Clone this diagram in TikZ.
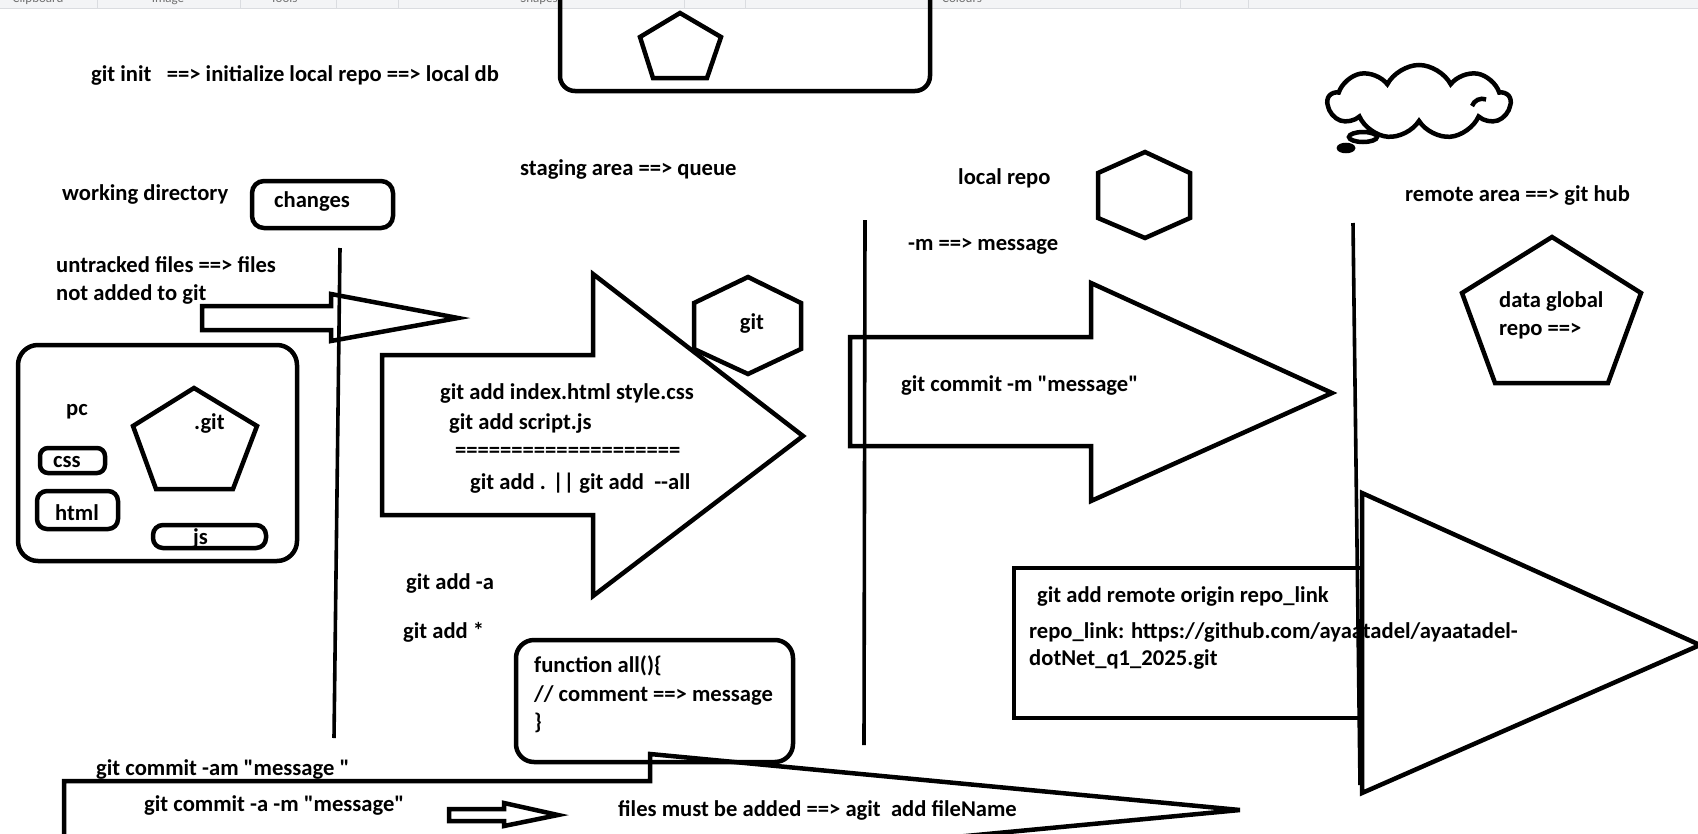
\documentclass[tikz,border=0pt]{standalone}
\usepackage{fontspec}
\setmainfont{Carlito}[Ligatures=TeXOff]
\usetikzlibrary{shapes.symbols}
\definecolor{barbg}{HTML}{F3F4F6}
\definecolor{barrule}{HTML}{DADCE0}
\definecolor{bartext}{HTML}{707070}
\tikzset{
  paint/.style={line width=4.5pt},
  divider/.style={line width=3.6pt},
  txt/.style={anchor=base west, inner sep=0pt, font=\fontsize{22.6}{26}\selectfont\bfseries},
  bartxt/.style={anchor=base, inner sep=0pt, text=bartext, font=\fontsize{13}{15}\selectfont},
}
\begin{document}
\begin{tikzpicture}[x=1pt,y=-1pt]
    \useasboundingbox (0,0) rectangle (1698,833);
    % toolbar strip of the paint window
    \fill[barbg] (0,0) rectangle (1698,8);
    \draw[barrule] (0,8) -- (1698,8);
    \foreach \x in {97,240,336,398,684,745,1180,1248}{%
        \draw[barrule] (\x,0) -- (\x,8);
    }
    \foreach \x/\t/\n in {38/Clipboard/clip,168/Image/img,284/Tools/tools,539/Shapes/shapes,962/Colours/colours}{%
        \node[bartxt] (bar\n) at (\x,2) {\t};
    }
    % top box with pentagon
    \draw[paint, rounded corners=15] (560,-20) -- (560,91) -- (930,91) -- (930,-20);
    \draw[paint] (680,13) -- (721,37) -- (707,78) -- (653,78) -- (640,37) -- cycle;
    \node[txt] (init) at (91,81) {git init\ \ \ ==> initialize local repo ==> local db};
    % column dividers
    \draw[divider] (340,248) -- (334,738);
    \draw[divider] (865,220) -- (864,745);
    \draw[divider] (1353,223) -- (1360,785);
    % working directory
    \node[txt] (workdir) at (62,200) {working directory};
    \draw[paint, rounded corners=12] (252,181) rectangle (393,228);
    \node[txt] (changes) at (274,207) {changes};
    \node[txt] (untracked) at (56,272) {untracked files ==> files};
    \node[txt] (notadded) at (56,300) {not added to git};
    \draw[paint] (202,306) -- (331,306) -- (331,294) -- (458,318) -- (331,341) -- (331,330) -- (202,330) -- cycle;
    % pc
    \draw[paint, rounded corners=20] (18,345) rectangle (297,561);
    \node[txt] (pc) at (66,415) {pc};
    \draw[paint] (194,388) -- (257,426) -- (233,489) -- (156,489) -- (133,426) -- cycle;
    \node[txt] (dotgit) at (194,429) {.git};
    \draw[paint, rounded corners=8] (40,448) rectangle (105,473);
    \node[txt] (css) at (53,467) {css};
    \draw[paint, rounded corners=10] (37,491) rectangle (118,529);
    \node[txt] (html) at (55,520) {html};
    \draw[paint, rounded corners=10] (153,525) rectangle (266,548);
    \node[txt] (js) at (193,544) {js};
    % staging area
    \node[txt] (staging) at (520,175) {staging area ==> queue};
    \draw[paint] (382,355) -- (593,355) -- (593,274) -- (803,436) -- (593,596) -- (593,515) -- (382,515) -- cycle;
    \draw[paint] (748,277) -- (801,303) -- (801,349) -- (748,374) -- (694,349) -- (694,303) -- cycle;
    \node[txt, anchor=base] (githex) at (752,329) {git};
    \node[txt] (addfiles) at (440,399) {git add index.html style.css};
    \node[txt] (addscript) at (449,429) {git add script.js};
    \node[txt] (rule) at (455,457) {====================};
    \node[txt] (addall) at (470,489) {git add . || git add\ \ --all};
    \node[txt] (adda) at (406,589) {git add -a};
    \node[txt] (addstar) at (403,638) {git add *};
    % function box
    \draw[paint, rounded corners=18] (516,640) rectangle (793,762);
    \node[txt] (fn) at (534,672) {function all()\{};
    \node[txt] (comment) at (534,701) {// comment ==> message};
    \node[txt] (brace) at (534,729) {\}};
    % bottom arrow
    \draw[paint] (64,845) -- (64,781) -- (650,781) -- (650,754) -- (1240,810) -- (650,866);
    \node[txt] (commitam) at (96,775) {git commit -am "message "};
    \node[txt] (commitam2) at (144,811) {git commit -a -m "message"};
    \draw[paint] (449,809) -- (504,809) -- (504,803) -- (558,815) -- (504,826) -- (504,821) -- (449,821) -- cycle;
    \node[txt] (mustadd) at (618,816) {files must be added ==> agit\ \ add fileName};
    % local repo
    \node[txt] (localrepo) at (958,184) {local repo};
    \draw[paint] (1145,152) -- (1190,173) -- (1190,218) -- (1145,238) -- (1098,218) -- (1098,173) -- cycle;
    \node[txt] (mmsg) at (908,250) {-m ==> message};
    \draw[paint] (850,337) -- (1091,337) -- (1091,283) -- (1332,393) -- (1091,501) -- (1091,446) -- (850,446) -- cycle;
    \node[txt] (commitm) at (901,391) {git commit -m "message"};
    % remote area
    \node[cloud, draw, paint, cloud puffs=9, cloud puff arc=125, aspect=2.4, minimum width=182, minimum height=74] (cloud) at (1419,102) {};
    \draw[paint] (1472,106) arc (200:290:11);
    \draw[paint] (1363,137) ellipse (14 and 5);
    \filldraw[paint] (1346,148) ellipse (7 and 3);
    \node[txt] (remote) at (1405,201) {remote area ==> git hub};
    \draw[paint] (1552,237) -- (1641,293) -- (1608,383) -- (1495,383) -- (1462,293) -- cycle;
    \node[txt] (dataglobal) at (1499,307) {data global};
    \node[txt] (repoarrow) at (1499,335) {repo ==>};
    \draw[paint] (1362,568) -- (1014,568) -- (1014,718) -- (1362,718);
    \draw[paint] (1362,493) -- (1700,645) -- (1362,793) -- cycle;
    \node[txt] (addremote) at (1037,602) {git add remote origin repo\_link};
    \node[txt] (repolink) at (1029,638) {repo\_link: https://github.com/ayaatadel/ayaatadel-};
    \node[txt] (dotnet) at (1029,665) {dotNet\_q1\_2025.git};
\end{tikzpicture}
\end{document}
